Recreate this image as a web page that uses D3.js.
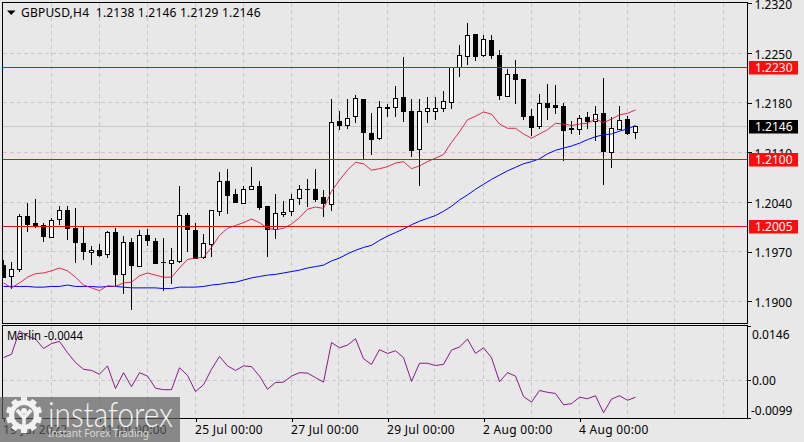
<!DOCTYPE html>
<html><head><meta charset="utf-8">
<script src="https://cdnjs.cloudflare.com/ajax/libs/d3/7.8.5/d3.min.js"></script>
<style>html,body{margin:0;padding:0;background:#e8e8e8;overflow:hidden}svg{display:block}text{font-family:"Noto Sans",sans-serif;font-size:12px;fill:#000}</style>
</head><body><svg id="c" width="804" height="442"></svg>
<script>
const symbolTitle = "GBPUSD,H4  1.2138 1.2146 1.2129 1.2146";
const indicatorTitle = "Marlin -0.0044";
const opens  = [1.1950,1.1935,1.1945,1.2019,1.2010,1.2007,1.1990,1.2016,1.2028,1.2003,1.1982,1.1969,1.1971,1.1966,1.1997,1.1938,1.1983,1.1949,1.1993,1.1985,1.1955,1.1954,1.1956,1.2021,1.2000,1.1962,1.1980,1.2027,1.2069,1.2051,1.2038,1.2058,1.2062,1.2034,1.2001,1.2022,1.2027,1.2045,1.2058,1.2058,1.2047,1.2037,1.2154,1.2148,1.2160,1.2185,1.2137,1.2129,1.2174,1.2174,1.2188,1.2168,1.2114,1.2167,1.2168,1.2172,1.2181,1.2230,1.2245,1.2276,1.2247,1.2268,1.2247,1.2189,1.2220,1.2213,1.2161,1.2146,1.2179,1.2176,1.2175,1.2144,1.2142,1.2159,1.2153,1.2165,1.2110,1.2143,1.2157,1.2138];
const highs  = [1.1958,1.1955,1.2023,1.2038,1.2045,1.2011,1.2018,1.2035,1.2034,1.2031,1.2006,1.1978,1.1981,1.1999,1.2003,1.1992,1.1990,1.2001,1.2002,1.1990,1.1989,1.1975,1.2063,1.2024,1.2010,1.1995,1.2028,1.2082,1.2086,1.2058,1.2062,1.2089,1.2069,1.2034,1.2052,1.2041,1.2052,1.2064,1.2072,1.2086,1.2057,1.2185,1.2168,1.2186,1.2191,1.2185,1.2165,1.2182,1.2178,1.2204,1.2244,1.2186,1.2186,1.2188,1.2188,1.2197,1.2230,1.2261,1.2292,1.2277,1.2276,1.2275,1.2254,1.2227,1.2240,1.2213,1.2171,1.2192,1.2206,1.2205,1.2179,1.2154,1.2163,1.2167,1.2175,1.2215,1.2160,1.2175,1.2161,1.2146];
const lows   = [1.1933,1.1918,1.1942,1.1998,1.2003,1.1984,1.1990,1.2008,1.1986,1.1954,1.1958,1.1951,1.1962,1.1961,1.1920,1.1910,1.1888,1.1949,1.1978,1.1954,1.1914,1.1924,1.1954,1.1969,1.1959,1.1960,1.1962,1.2021,1.2023,1.2039,1.2038,1.2057,1.2029,1.1962,1.1988,1.2019,1.2020,1.2036,1.2033,1.2040,1.2019,1.2027,1.2141,1.2143,1.2152,1.2100,1.2106,1.2127,1.2160,1.2160,1.2153,1.2104,1.2062,1.2151,1.2155,1.2167,1.2171,1.2217,1.2233,1.2239,1.2244,1.2242,1.2184,1.2189,1.2178,1.2156,1.2133,1.2143,1.2155,1.2164,1.2098,1.2136,1.2135,1.2143,1.2126,1.2064,1.2088,1.2143,1.2135,1.2129];
const closes = [1.1933,1.1945,1.2020,1.2009,1.2007,1.1991,1.2014,1.2028,1.2003,1.1983,1.1970,1.1972,1.1965,1.1997,1.1938,1.1983,1.1950,1.1993,1.1986,1.1954,1.1955,1.1958,1.2021,1.2002,1.1961,1.1982,1.2028,1.2069,1.2049,1.2039,1.2058,1.2062,1.2032,1.2002,1.2024,1.2025,1.2044,1.2058,1.2057,1.2044,1.2038,1.2152,1.2148,1.2158,1.2186,1.2138,1.2128,1.2174,1.2172,1.2186,1.2167,1.2112,1.2168,1.2172,1.2172,1.2182,1.2230,1.2246,1.2275,1.2245,1.2269,1.2246,1.2190,1.2220,1.2213,1.2160,1.2145,1.2179,1.2174,1.2173,1.2141,1.2142,1.2158,1.2154,1.2164,1.2111,1.2144,1.2155,1.2136,1.2146];
const fastMA = [1.1926,1.1919,1.1926,1.1934,1.1939,1.1940,1.1943,1.1947,1.1943,1.1934,1.1923,1.1919,1.1915,1.1922,1.1921,1.1926,1.1927,1.1936,1.1940,1.1937,1.1934,1.1934,1.1947,1.1959,1.1961,1.1962,1.1976,1.1993,1.2003,1.2007,1.2011,1.2016,1.2011,1.2003,1.2001,1.2003,1.2009,1.2018,1.2030,1.2033,1.2031,1.2055,1.2071,1.2085,1.2096,1.2094,1.2085,1.2087,1.2090,1.2095,1.2097,1.2087,1.2091,1.2097,1.2102,1.2107,1.2124,1.2139,1.2156,1.2161,1.2167,1.2164,1.2150,1.2144,1.2144,1.2136,1.2130,1.2136,1.2142,1.2151,1.2150,1.2148,1.2150,1.2151,1.2157,1.2152,1.2157,1.2163,1.2165,1.2170];
const slowMA = [1.1921,1.1921,1.1921,1.1921,1.1920,1.1920,1.1921,1.1921,1.1923,1.1921,1.1921,1.1921,1.1920,1.1921,1.1921,1.1920,1.1919,1.1919,1.1919,1.1919,1.1918,1.1918,1.1920,1.1920,1.1920,1.1921,1.1923,1.1924,1.1926,1.1927,1.1930,1.1933,1.1935,1.1937,1.1938,1.1940,1.1942,1.1944,1.1947,1.1949,1.1951,1.1957,1.1961,1.1967,1.1972,1.1976,1.1979,1.1986,1.1992,1.1997,1.2002,1.2008,1.2013,1.2017,1.2021,1.2027,1.2034,1.2043,1.2050,1.2058,1.2065,1.2072,1.2078,1.2084,1.2089,1.2094,1.2097,1.2101,1.2108,1.2113,1.2116,1.2119,1.2123,1.2128,1.2132,1.2135,1.2136,1.2140,1.2143,1.2148];
const marlin = [0.0061,0.0070,0.0132,0.0118,0.0110,0.0085,0.0098,0.0104,0.0074,0.0048,0.0030,0.0027,0.0017,0.0039,-0.0021,0.0021,-0.0016,0.0021,0.0012,-0.0020,-0.0024,-0.0024,0.0034,0.0014,-0.0029,-0.0011,0.0030,0.0064,0.0039,0.0027,0.0039,0.0037,0.0012,-0.0023,-0.0005,-0.0004,0.0012,0.0021,0.0020,0.0008,-0.0004,0.0101,0.0087,0.0094,0.0111,0.0058,0.0043,0.0082,0.0072,0.0079,0.0061,-0.0002,0.0046,0.0046,0.0040,0.0043,0.0081,0.0089,0.0110,0.0072,0.0087,0.0061,-0.0003,0.0021,0.0012,-0.0042,-0.0057,-0.0026,-0.0031,-0.0034,-0.0064,-0.0061,-0.0044,-0.0048,-0.0040,-0.0085,-0.0049,-0.0040,-0.0052,-0.0044];
const priceTicks = [1.2320,1.2250,1.2180,1.2110,1.2040,1.1970,1.1900];
const levels = [1.2230,1.2100,1.2005];
const lastPrice = 1.2146;
const marlinTicks = [0.0146,0,-0.0099];
const marlinLabels = ["0.0146","0.00","-0.0099"];
const timeIndex = [0,12,24,36,48,60,72];
const timeLabels = ["19 Jul 2022","21 Jul 00:00","25 Jul 00:00","27 Jul 00:00","29 Jul 00:00","2 Aug 00:00","4 Aug 00:00"];
const gridIndex = d3.range(0,91,6);

const svg = d3.select("#c");
const L=2.5,R=747.5,T=2.5,B=323.5,T2=325.5,B2=418.5;
const x = d3.scaleLinear().domain([0,79]).range([3.5,635.5]);
const y = d3.scaleLinear().domain([1.19,1.232]).range([301.34,3.48]);
const ym = d3.scaleLinear().domain([-0.0099,0.0146]).range([418,325.5]);
const px = v => Math.round(v-0.5)+0.5;
const gridX = i => px(x(i)-0.5);
const GRID="#c8c8c8", dash="4,3";

svg.append("defs").append("clipPath").attr("id","cp").append("rect").attr("x",L).attr("y",T).attr("width",R-L).attr("height",B-T);
svg.append("defs").append("clipPath").attr("id","cs").append("rect").attr("x",L).attr("y",T2).attr("width",R-L).attr("height",B2-T2);

// grid
const g = svg.append("g").attr("shape-rendering","crispEdges").attr("stroke",GRID).attr("stroke-dasharray",dash);
g.selectAll(".h").data(priceTicks.slice(1)).join("line").attr("x1",L).attr("x2",R).attr("y1",d=>px(y(d))).attr("y2",d=>px(y(d)));
g.selectAll(".v").data(gridIndex.slice(1)).join("line").attr("x1",gridX).attr("x2",gridX).attr("y1",T).attr("y2",B);
g.selectAll(".v2").data(gridIndex.slice(1)).join("line").attr("x1",gridX).attr("x2",gridX).attr("y1",T2).attr("y2",B2);
g.append("line").attr("x1",L).attr("x2",R).attr("y1",px(ym(0))).attr("y2",px(ym(0)));
svg.append("line").attr("shape-rendering","crispEdges").attr("x1",L).attr("x2",R).attr("y1",px(y(lastPrice))).attr("y2",px(y(lastPrice))).attr("stroke",GRID);

// candles
const cg = svg.append("g").attr("clip-path","url(#cp)").attr("shape-rendering","crispEdges");
opens.forEach((o,i)=>{
  const c=closes[i], cx=x(i), up=c>=o;
  const t=px(y(Math.max(o,c))), b=px(y(Math.min(o,c)));
  cg.append("line").attr("x1",cx).attr("x2",cx).attr("y1",y(highs[i])).attr("y2",y(lows[i])).attr("stroke","#000");
  cg.append("rect").attr("x",cx-2).attr("width",4).attr("y",t).attr("height",Math.max(b-t,0.01)).attr("fill",up?"#fff":"#000").attr("stroke","#000");
});

// moving averages
const line = d3.line().x((d,i)=>x(i)).y(d=>y(d));
const mg = svg.append("g").attr("clip-path","url(#cp)").attr("fill","none");
mg.append("path").attr("d",line(slowMA)).attr("stroke","#0000ff").attr("stroke-width",1);
mg.append("path").attr("d",line(fastMA)).attr("stroke","#e0143c").attr("stroke-width",0.9);

// levels
svg.append("g").attr("shape-rendering","crispEdges").selectAll("line").data(levels).join("line")
  .attr("x1",L).attr("x2",R).attr("y1",d=>px(y(d))).attr("y2",d=>px(y(d))).attr("stroke","#e01010");

// marlin
svg.append("path").attr("clip-path","url(#cs)").attr("fill","none").attr("stroke","#800080").attr("stroke-width",0.9)
  .attr("d",d3.line().x((d,i)=>x(i)).y(d=>ym(d))(marlin));

// frames
svg.append("g").attr("shape-rendering","crispEdges").attr("fill","none").attr("stroke","#000").selectAll("rect")
  .data([[T,B],[T2,B2]]).join("rect").attr("x",L).attr("y",d=>d[0]).attr("width",R-L).attr("height",d=>d[1]-d[0]);

// price axis
const ax = svg.append("g").attr("transform",`translate(${R},0)`).call(d3.axisRight(y).tickValues(priceTicks).tickFormat(d3.format(".4f")).tickSize(4).tickPadding(3));
ax.select(".domain").remove();
ax.selectAll("line").attr("stroke","#000").attr("shape-rendering","crispEdges");
ax.selectAll("text").attr("fill","#000").attr("dy","0.42em").style("font-size","12px").style("font-family",'"Noto Sans",sans-serif');

// value flags
const flag = (v,bg)=>{
  const cy=px(y(v));
  svg.append("rect").attr("x",749).attr("y",cy-6.5).attr("width",49).attr("height",13.5).attr("fill",bg);
  svg.append("text").attr("x",755).attr("y",cy+0.3).attr("dy","0.34em").style("fill","#fff").text(d3.format(".4f")(v));
};
levels.forEach(v=>flag(v,"#fc0d0d"));
flag(lastPrice,"#000");

// marlin axis
const axm = svg.append("g").attr("shape-rendering","crispEdges");
axm.selectAll("line").data([ym(0.0146)+0.5,px(ym(0)),B2]).join("line").attr("x1",R).attr("x2",R+3).attr("y1",d=>d).attr("y2",d=>d).attr("stroke","#000");
const labelY = [334.5,381.3,410.5];
svg.selectAll(".ml").data(marlinLabels).join("text").attr("x",(d,i)=>i==2?751:752).attr("y",(d,i)=>labelY[i]).attr("dy","0.34em").text(d=>d);

// time axis
const tx = svg.append("g").attr("transform",`translate(0,${B2})`).call(d3.axisBottom(x).tickValues(timeIndex).tickFormat((d,i)=>timeLabels[i]).tickSize(3).tickPadding(4));
tx.select(".domain").remove();
tx.selectAll("line").attr("stroke","#000").attr("shape-rendering","crispEdges");
tx.selectAll("text").attr("text-anchor","start").attr("fill","#000").attr("dx",-1).style("font-size","12px").style("letter-spacing","0.3px").style("font-family",'"Noto Sans",sans-serif');

// titles
svg.append("path").attr("d","M7,10.5 H15.5 L11.2,15 Z").attr("fill","#000");
svg.append("text").attr("x",21).attr("y",12.5).attr("dy","0.34em").attr("textLength",239.5).attr("lengthAdjust","spacing").style("white-space","pre").text(symbolTitle);
svg.append("text").attr("x",7).attr("y",336.3).attr("dy","0.34em").attr("textLength",76).attr("lengthAdjust","spacingAndGlyphs").text(indicatorTitle);

// watermark
const w = svg.append("g");
w.append("rect").attr("x",0).attr("y",397).attr("width",180).attr("height",45).attr("fill","#5d5d5d").attr("opacity",0.69);
const gx=24,gy=415;
const teeth=d3.range(10).map(k=>k*36);
w.selectAll(".t").data(teeth).join("rect").attr("x",gx-3).attr("y",gy-18).attr("width",6).attr("height",7).attr("fill","#f2f2f2").attr("transform",d=>`rotate(${d} ${gx} ${gy})`);
w.append("circle").attr("cx",gx).attr("cy",gy).attr("r",12.5).attr("fill","none").attr("stroke","#f2f2f2").attr("stroke-width",5);
w.append("circle").attr("cx",gx).attr("cy",gy-4).attr("r",3).attr("fill","#f2f2f2");
w.append("path").attr("d",`M${gx-7},${gy-5} L${gx},${gy+3} L${gx+7},${gy-5} M${gx},${gy+3} V${gy+13}`).attr("fill","none").attr("stroke","#f2f2f2").attr("stroke-width",3.5);
w.append("text").attr("x",48).attr("y",427).attr("textLength",125).attr("lengthAdjust","spacingAndGlyphs").style("font-family","Lato").style("font-weight",300).style("font-size","36px").style("fill","#f4f4f4").text("instaforex");
w.append("text").attr("x",48).attr("y",437).attr("textLength",101).attr("lengthAdjust","spacingAndGlyphs").style("font-size","11px").style("fill","#d8d8d8").text("Instant Forex Trading");
</script></body></html>
